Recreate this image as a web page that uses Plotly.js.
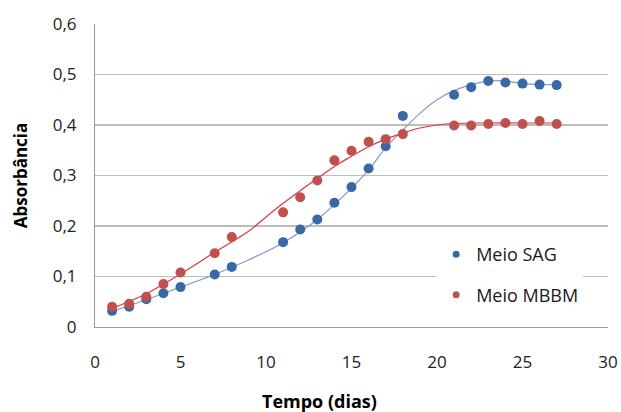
<!DOCTYPE html>
<html>
<head>
<meta charset="utf-8">
<script src="https://cdn.plot.ly/plotly-3.0.1.min.js"></script>
<style>html,body{margin:0;padding:0;background:#fff;}#chart{width:621px;height:412px;}</style>
</head>
<body>
<div id="chart"></div>
<script>
// Observed data points
const days = [1,2,3,4,5,7,8,11,12,13,14,15,16,17,18,21,22,23,24,25,26,27];
const sag  = [0.032,0.040,0.055,0.067,0.079,0.104,0.119,0.168,0.193,0.213,0.246,0.277,0.314,0.358,0.418,0.460,0.475,0.487,0.484,0.482,0.480,0.479];
const mbbm = [0.040,0.046,0.060,0.085,0.108,0.146,0.178,0.227,0.257,0.290,0.330,0.349,0.367,0.372,0.382,0.399,0.399,0.402,0.404,0.402,0.408,0.402];

// Fitted trend curves (knots)
const sagFitX = [1,3,5,7,9,11,13,15,16,17,18,19,20,21,22,23,24,25,26,27];
const sagFitY = [0.031,0.054,0.079,0.104,0.133,0.167,0.213,0.275,0.311,0.355,0.390,0.423,0.450,0.468,0.480,0.487,0.487,0.482,0.480,0.480];
const mbbmFitX = [1,3,5,7,9,10,11,12,13,14,15,16,17,18,19,20,21,23,25,27];
const mbbmFitY = [0.037,0.066,0.105,0.148,0.190,0.218,0.245,0.270,0.294,0.318,0.338,0.357,0.372,0.384,0.394,0.400,0.403,0.404,0.404,0.404];

const seriesNames = ['Meio SAG', 'Meio MBBM'];
const xTicks = [0,5,10,15,20,25,30];
const yTicks = [0,0.1,0.2,0.3,0.4,0.5,0.6];
const xTitle = 'Tempo (dias)';
const yTitle = 'Absorbância';

const blue = '#3A68A6', red = '#C0504D';
const traces = [
  {x: sagFitX, y: sagFitY, mode: 'lines', line: {color: '#7D9DC8', width: 1.2, shape: 'spline', smoothing: 1}, showlegend: false, hoverinfo: 'skip'},
  {x: mbbmFitX, y: mbbmFitY, mode: 'lines', line: {color: '#E0373C', width: 1.2, shape: 'spline', smoothing: 1}, showlegend: false, hoverinfo: 'skip'},
  {x: days, y: sag, name: seriesNames[0], mode: 'markers', marker: {color: blue, size: 10}, showlegend: false},
  {x: days, y: mbbm, name: seriesNames[1], mode: 'markers', marker: {color: red, size: 10}, showlegend: false},
  // legend entries (smaller dots, as in the original legend)
  {x: [null], y: [null], name: seriesNames[0], mode: 'markers', marker: {color: blue, size: 7}, legendgroup: 'a'},
  {x: [null], y: [null], name: seriesNames[1], mode: 'markers', marker: {color: red, size: 7}, legendgroup: 'b'}
];

const font = "'Open Sans', sans-serif";
const layout = {
  width: 621, height: 412,
  margin: {l: 95, r: 13, t: 24, b: 85},
  paper_bgcolor: '#fff', plot_bgcolor: '#fff',
  separators: ',.',
  font: {family: font, color: '#000', size: 17},
  showlegend: true,
  legend: {x: 0.665, y: 0.30, xanchor: 'left', yanchor: 'top', bgcolor: '#fff', borderwidth: 0,
           font: {family: font, size: 18, color: '#1a1a1a'}, tracegroupgap: 14, itemwidth: 30, traceorder: 'grouped'},
  xaxis: {
    range: [0, 30], tickvals: xTicks, ticktext: xTicks.map(String),
    showgrid: false, zeroline: false, showline: true, linecolor: '#9a9a9a', linewidth: 1,
    ticks: 'outside', ticklen: 20, tickcolor: 'rgba(0,0,0,0)',
    tickfont: {family: font, size: 17, color: '#222'}
  },
  yaxis: {
    range: [0, 0.6], tickvals: yTicks, ticktext: yTicks.map(v => v === 0 ? '0' : v.toFixed(1).replace('.', ',')),
    showgrid: true, gridcolor: '#BDBDBD', gridwidth: 1.5, zeroline: false,
    showline: true, linecolor: '#9a9a9a', linewidth: 1,
    ticks: 'outside', ticklen: 14, tickcolor: 'rgba(0,0,0,0)',
    tickfont: {family: font, size: 17, color: '#222'},
    title: {text: '<b>' + yTitle + '</b>', font: {family: font, size: 17, color: '#000'}, standoff: 20}
  },
  annotations: [{
    text: '<b>' + xTitle + '</b>', xref: 'paper', yref: 'paper', x: 0.437, y: -0.244,
    xanchor: 'center', yanchor: 'middle', showarrow: false,
    font: {family: font, size: 18, color: '#000'}
  }]
};
Plotly.newPlot('chart', traces, layout, {displayModeBar: false, staticPlot: true});
</script>
</body>
</html>
